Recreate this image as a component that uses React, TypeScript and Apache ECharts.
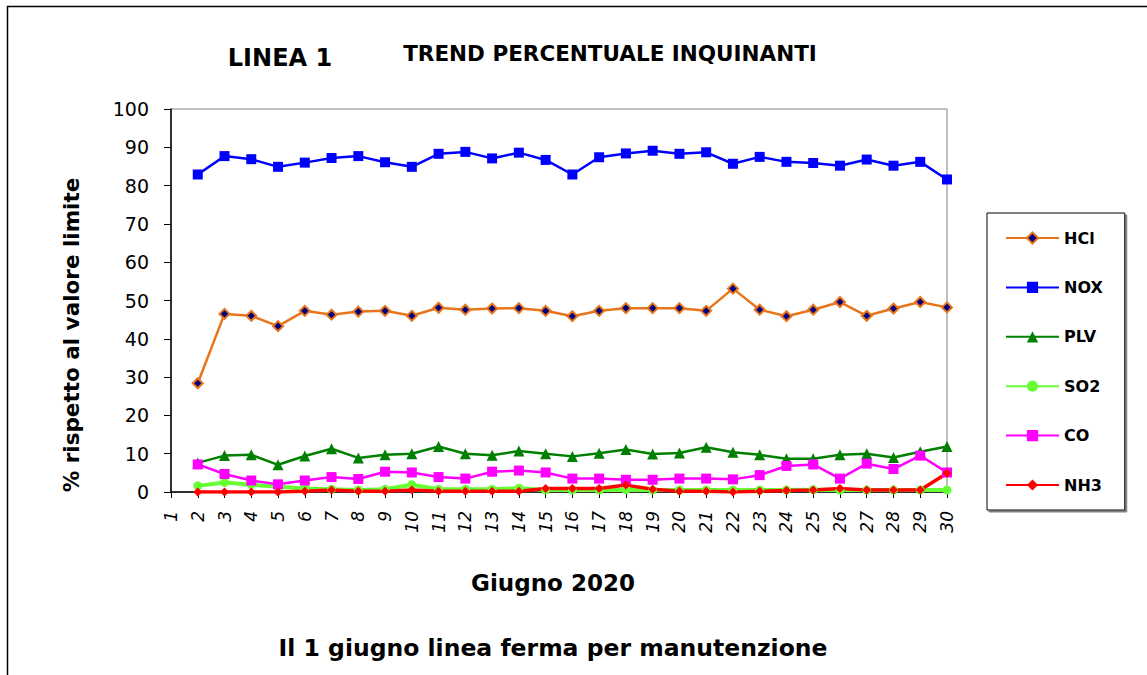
import React, { useEffect, useRef } from "react";
import * as echarts from "echarts";

const days = Array.from({ length: 30 }, (_, i) => String(i + 1));
const hcl = [null, 28.4, 46.5, 46.0, 43.3, 47.3, 46.3, 47.1, 47.3, 46.0, 48.1, 47.6, 47.9, 48.0, 47.3, 45.9, 47.3, 48.0, 48.0, 48.0, 47.3, 53.1, 47.6, 45.9, 47.6, 49.6, 46.0, 47.9, 49.6, 48.2];
const nox = [null, 82.9, 87.7, 86.9, 84.9, 86.0, 87.2, 87.7, 86.1, 84.9, 88.3, 88.8, 87.1, 88.6, 86.7, 82.9, 87.4, 88.4, 89.1, 88.3, 88.7, 85.7, 87.5, 86.2, 85.9, 85.2, 86.8, 85.2, 86.2, 81.6];
const plv = [null, 7.6, 9.5, 9.7, 7.1, 9.4, 11.3, 8.9, 9.7, 10.0, 11.9, 10.0, 9.6, 10.7, 10.0, 9.3, 10.1, 11.1, 9.9, 10.2, 11.7, 10.4, 9.7, 8.7, 8.7, 9.7, 10.0, 9.0, 10.5, 11.9];
const so2 = [null, 1.6, 2.5, 1.9, 1.4, 0.9, 0.7, 0.5, 0.7, 1.9, 0.7, 0.7, 0.7, 1.0, 0.5, 0.5, 0.5, 0.6, 0.5, 0.5, 0.5, 0.5, 0.5, 0.5, 0.6, 0.5, 0.5, 0.5, 0.5, 0.5];
const co = [null, 7.2, 4.7, 3.0, 2.0, 3.0, 3.9, 3.4, 5.3, 5.1, 3.9, 3.5, 5.3, 5.6, 5.1, 3.5, 3.5, 3.2, 3.2, 3.5, 3.5, 3.3, 4.4, 6.8, 7.2, 3.5, 7.4, 6.0, 9.5, 5.1];
const nh3 = [null, 0.0, 0.0, 0.0, 0.0, 0.2, 0.5, 0.2, 0.2, 0.5, 0.2, 0.2, 0.2, 0.2, 0.9, 0.9, 0.9, 1.8, 0.7, 0.2, 0.2, 0.0, 0.2, 0.4, 0.5, 0.9, 0.5, 0.5, 0.5, 4.9];

const FONT = "DejaVu Sans";

export default function App() {
  const ref = useRef<HTMLDivElement>(null);
  useEffect(() => {
    if (!ref.current) return;
    const chart = echarts.init(ref.current, null, { renderer: "svg" });
    const mk = (name: string, data: any[], color: string, symbol: string, size: number, lw: number, extra: any = {}) => ({
      name,
      type: "line",
      data,
      symbol,
      symbolSize: size,
      connectNulls: false,
      lineStyle: { color, width: lw },
      itemStyle: { color, ...extra },
      emphasis: { disabled: true },
    });
    chart.setOption({
      animation: false,
      backgroundColor: "#ffffff",
      grid: {
        left: 171,
        top: 109,
        right: 200,
        bottom: 183,
        show: true,
        borderColor: "#808080",
        borderWidth: 1,
        backgroundColor: "transparent",
      },
      xAxis: {
        type: "category",
        data: days,
        boundaryGap: false,
        axisLine: { lineStyle: { color: "#000", width: 1.5 } },
        axisTick: { show: true, length: 6, lineStyle: { color: "#000" } },
        axisLabel: {
          rotate: 90,
          interval: 0,
          margin: 19,
          fontFamily: FONT,
          fontSize: 17,
          fontStyle: "italic",
          color: "#000",
        },
        splitLine: { show: false },
      },
      yAxis: {
        type: "value",
        min: 0,
        max: 100,
        interval: 10,
        axisLine: { show: true, lineStyle: { color: "#000", width: 1.5 } },
        axisTick: { show: true, length: 7, lineStyle: { color: "#000" } },
        axisLabel: { margin: 22, fontFamily: FONT, fontSize: 19, color: "#000" },
        splitLine: { show: false },
      },
      legend: {
        orient: "vertical",
        left: 987,
        top: 213,
        width: 100,
        padding: [17, 22, 17, 18],
        itemWidth: 53,
        itemHeight: 14,
        itemGap: 33.4,
        backgroundColor: "#ffffff",
        borderColor: "#000",
        borderWidth: 1,
        shadowColor: "#808080",
        shadowOffsetX: 2,
        shadowOffsetY: 2,
        shadowBlur: 0,
        textStyle: { fontFamily: FONT, fontSize: 16, fontWeight: "bold", color: "#000", padding: [0, 0, 0, 0] },
        data: ["HCl", "NOX", "PLV", "SO2", "CO", "NH3"],
      },
      graphic: [
        {
          type: "rect",
          shape: { x: 7.5, y: 6.5, width: 1300, height: 800 },
          style: { fill: "none", stroke: "#000", lineWidth: 1.5 },
          silent: true,
        },
        {
          type: "text",
          x: 280,
          y: 58,
          style: { text: "LINEA 1", fontFamily: FONT, fontSize: 24, fontWeight: "bold", fill: "#000", textAlign: "center", textVerticalAlign: "middle" },
        },
        {
          type: "text",
          x: 610,
          y: 53,
          style: { text: "TREND PERCENTUALE INQUINANTI", fontFamily: FONT, fontSize: 21.5, fontWeight: "bold", fill: "#000", textAlign: "center", textVerticalAlign: "middle" },
        },
        {
          type: "text",
          x: 71,
          y: 335,
          rotation: Math.PI / 2,
          style: { text: "% rispetto al valore limite", fontFamily: FONT, fontSize: 21.5, fontWeight: "bold", fill: "#000", textAlign: "center", textVerticalAlign: "middle" },
        },
        {
          type: "text",
          x: 553,
          y: 583,
          style: { text: "Giugno 2020", fontFamily: FONT, fontSize: 23, fontWeight: "bold", fill: "#000", textAlign: "center", textVerticalAlign: "middle" },
        },
        {
          type: "text",
          x: 553,
          y: 648,
          style: { text: "Il 1 giugno linea ferma per manutenzione", fontFamily: FONT, fontSize: 23.5, fontWeight: "bold", fill: "#000", textAlign: "center", textVerticalAlign: "middle" },
        },
      ],
      series: [
        mk("HCl", hcl, "#E8751A", "diamond", 10, 2.5, { color: "#000080", borderColor: "#E8751A", borderWidth: 2 }),
        mk("NOX", nox, "#0000FF", "rect", 10, 2.5),
        mk("PLV", plv, "#008000", "triangle", 11, 2.5),
        mk("SO2", so2, "#66FF33", "circle", 9, 4),
        mk("CO", co, "#FF00FF", "rect", 10, 2.5),
        mk("NH3", nh3, "#FF0000", "diamond", 9, 3.5),
      ],
    });
    return () => chart.dispose();
  }, []);
  return (
    <div
      ref={ref}
      style={{ position: "absolute", left: 0, top: 0, width: 1147, height: 675 }}
    />
  );
}
